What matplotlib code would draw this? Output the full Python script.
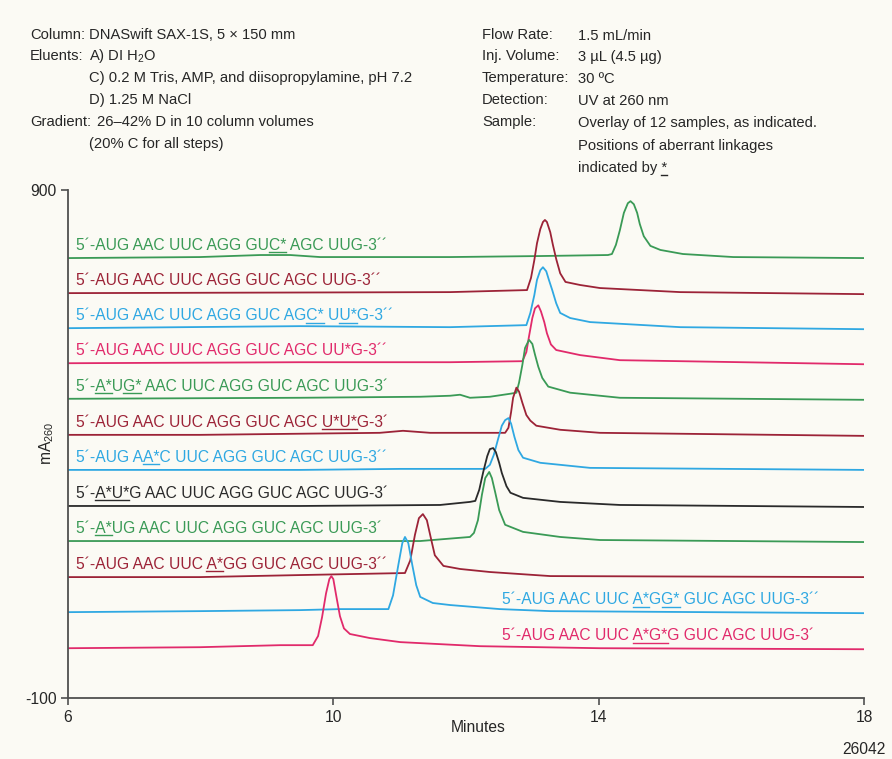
import matplotlib
matplotlib.use("Agg")
import matplotlib.pyplot as plt
from matplotlib import font_manager as fm

# ---------------- fonts ----------------
def has_font(name):
    try:
        fm.findfont(fm.FontProperties(family=name), fallback_to_default=False)
        return True
    except Exception:
        return False

NARROW = has_font("Liberation Sans Narrow")
FAM = "Liberation Sans Narrow" if NARROW else "Liberation Sans"
SC = 1.0 if NARROW else 0.84
plt.rcParams["font.family"] = [FAM, "DejaVu Sans"]
plt.rcParams["mathtext.fontset"] = "custom"
plt.rcParams["mathtext.rm"] = FAM
plt.rcParams["mathtext.it"] = FAM
plt.rcParams["mathtext.bf"] = FAM
plt.rcParams["mathtext.default"] = "regular"

# ---------------- data ----------------
x_ticks = [6, 10, 14, 18]
y_ticks = [-100, 900]

offsets = [766, 697, 628, 559, 489, 418, 349, 278, 209, 138, 69, -2]

GREEN, DRED, BLUE, PINK, BLACK = "#3a9a56", "#9c2337", "#2fa8e2", "#e12a6b", "#2a2a2a"
trace_colors = [GREEN, DRED, BLUE, PINK, GREEN, DRED, BLUE, BLACK, GREEN, DRED, BLUE, PINK]

# labels; [..] marks underlined part
labels = [
    "5´-AUG AAC UUC AGG GU[C*] AGC UUG-3´´",
    "5´-AUG AAC UUC AGG GUC AGC UUG-3´´",
    "5´-AUG AAC UUC AGG GUC AG[C*] U[U*]G-3´´",
    "5´-AUG AAC UUC AGG GUC AGC UU*G-3´´",
    "5´-[A*]U[G*] AAC UUC AGG GUC AGC UUG-3´",
    "5´-AUG AAC UUC AGG GUC AGC [U*U*]G-3´",
    "5´-AUG A[A*]C UUC AGG GUC AGC UUG-3´´",
    "5´-[A*U*]G AAC UUC AGG GUC AGC UUG-3´",
    "5´-[A*]UG AAC UUC AGG GUC AGC UUG-3´",
    "5´-AUG AAC UUC [A*]GG GUC AGC UUG-3´´",
    "5´-AUG AAC UUC [A*]G[G*] GUC AGC UUG-3´´",
    "5´-AUG AAC UUC [A*G*]G GUC AGC UUG-3´",
]
label_x = [6.12] * 10 + [12.55, 12.55]

time_1 = [6.00, 7.99, 8.90, 9.35, 9.80, 11.76, 13.12, 14.14, 14.20, 14.26, 14.32, 14.38, 14.44, 14.48, 14.53, 14.58, 14.62, 14.68, 14.78, 14.93, 15.27, 16.03, 18.00]
signal_1 = [0, 2, 6, 6, 2, 2, 4, 6, 8, 26, 55, 89, 108, 112, 106, 89, 67, 43, 24, 16, 8, 2, 0]

time_2 = [6.00, 11.76, 12.92, 12.98, 13.03, 13.07, 13.12, 13.16, 13.19, 13.22, 13.27, 13.31, 13.36, 13.42, 13.50, 13.72, 14.02, 15.23, 18.00]
signal_2 = [0, 2, 6, 30, 65, 98, 126, 140, 144, 140, 120, 95, 67, 39, 22, 16, 10, 2, -2]

time_3 = [6.00, 9.50, 11.76, 12.91, 12.97, 13.03, 13.07, 13.12, 13.16, 13.21, 13.25, 13.30, 13.36, 13.42, 13.57, 13.87, 15.23, 18.00]
signal_3 = [0, 4, 2, 6, 30, 65, 95, 114, 120, 112, 95, 75, 49, 30, 20, 12, 2, -2]

time_4 = [6.00, 9.50, 11.76, 12.85, 12.91, 12.95, 13.00, 13.04, 13.09, 13.13, 13.18, 13.22, 13.28, 13.36, 13.72, 14.32, 18.00]
signal_4 = [0, 2, 2, 4, 22, 53, 89, 108, 114, 102, 81, 59, 37, 26, 16, 6, -2]

time_5 = [6.00, 9.50, 11.31, 11.76, 11.91, 12.06, 12.36, 12.67, 12.76, 12.80, 12.85, 12.89, 12.95, 13.00, 13.04, 13.09, 13.15, 13.24, 13.57, 14.32, 18.00]
signal_5 = [0, 2, 4, 6, 8, 2, 4, 10, 12, 32, 67, 100, 116, 108, 87, 63, 41, 24, 12, 2, -2]

time_6 = [6.00, 7.99, 10.70, 11.05, 11.46, 12.59, 12.64, 12.68, 12.71, 12.76, 12.80, 12.85, 12.91, 12.97, 13.06, 13.42, 14.02, 18.00]
signal_6 = [0, 0, 4, 8, 4, 4, 14, 45, 73, 93, 85, 63, 39, 28, 18, 10, 4, -2]

time_7 = [6.00, 9.50, 11.01, 12.29, 12.36, 12.42, 12.48, 12.54, 12.59, 12.64, 12.68, 12.73, 12.79, 12.86, 13.12, 13.87, 18.00]
signal_7 = [0, 0, 2, 2, 10, 30, 59, 87, 98, 102, 91, 65, 39, 24, 14, 4, 0]

time_8 = [6.00, 9.50, 11.61, 12.06, 12.14, 12.20, 12.26, 12.32, 12.36, 12.41, 12.45, 12.50, 12.54, 12.61, 12.67, 12.86, 13.42, 14.32, 18.00]
signal_8 = [0, 0, 2, 8, 10, 32, 67, 98, 112, 114, 106, 85, 65, 39, 26, 16, 8, 2, -2]

time_9 = [6.00, 9.50, 11.31, 12.06, 12.12, 12.18, 12.24, 12.29, 12.35, 12.39, 12.44, 12.50, 12.59, 12.86, 13.42, 14.02, 18.00]
signal_9 = [0, 0, 0, 8, 16, 41, 91, 124, 136, 124, 96, 61, 32, 18, 8, 2, -2]

time_10 = [6.00, 7.99, 9.50, 11.08, 11.16, 11.23, 11.29, 11.35, 11.41, 11.47, 11.53, 11.66, 11.91, 12.36, 13.27, 18.00]
signal_10 = [0, 0, 4, 8, 33, 83, 116, 124, 112, 77, 43, 22, 16, 10, 2, 0]

time_11 = [6.00, 7.99, 9.50, 10.10, 10.83, 10.90, 10.98, 11.04, 11.08, 11.13, 11.19, 11.25, 11.31, 11.50, 11.76, 12.51, 13.27, 18.00]
signal_11 = [0, 2, 4, 6, 6, 33, 93, 136, 148, 136, 93, 53, 30, 18, 14, 6, 2, -2]

time_12 = [6.00, 7.99, 9.20, 9.69, 9.77, 9.83, 9.89, 9.94, 9.97, 10.00, 10.04, 10.10, 10.16, 10.25, 10.55, 11.01, 12.21, 14.02, 18.00]
signal_12 = [0, 2, 6, 6, 24, 61, 108, 136, 142, 136, 106, 63, 39, 28, 20, 12, 4, 0, -2]

times = [time_1, time_2, time_3, time_4, time_5, time_6, time_7, time_8, time_9, time_10, time_11, time_12]
signals = [signal_1, signal_2, signal_3, signal_4, signal_5, signal_6, signal_7, signal_8, signal_9, signal_10, signal_11, signal_12]

header_left = [
    ("Column:", "DNASwift SAX-1S, 5 × 150 mm"),
    ("Eluents:", "A) DI H$_{2}$O"),
    ("", "C) 0.2 M Tris, AMP, and diisopropylamine, pH 7.2"),
    ("", "D) 1.25 M NaCl"),
    ("Gradient:", "26–42% D in 10 column volumes"),
    ("", "(20% C for all steps)"),
]
header_right = [
    ("Flow Rate:", "1.5 mL/min"),
    ("Inj. Volume:", "3 µL (4.5 µg)"),
    ("Temperature:", "30 ºC"),
    ("Detection:", "UV at 260 nm"),
    ("Sample:", "Overlay of 12 samples, as indicated."),
    ("", "Positions of aberrant linkages"),
    ("", "indicated by [*]"),
]

# ---------------- figure ----------------
W, H = 892, 759
BG = "#fbfaf4"
fig = plt.figure(figsize=(W / 100, H / 100), dpi=100, facecolor=BG)
ax = fig.add_axes([68 / W, 1 - 698 / H, 796 / W, 508 / H], facecolor=BG)

def fx(x):
    return x / W

def fy(y):
    return 1 - y / H

FS = 13.4 * SC
HFS = 12.6 * SC
TXT = "#262626"

for t, s, off, c in zip(times, signals, offsets, trace_colors):
    ax.plot(t, [v + off for v in s], color=c, lw=1.3, solid_joinstyle="round", solid_capstyle="round")

ax.set_xlim(6, 18)
ax.set_ylim(-100, 900)
ax.set_xticks(x_ticks)
ax.set_yticks(y_ticks)
ax.set_xticklabels([str(v) for v in x_ticks])
ax.set_yticklabels([str(v) for v in y_ticks])
for sp in ["top", "right"]:
    ax.spines[sp].set_visible(False)
for sp in ["left", "bottom"]:
    ax.spines[sp].set_color("#505050")
    ax.spines[sp].set_linewidth(1.3)
ax.tick_params(axis="both", direction="out", length=5, width=1.2, color="#505050",
               labelsize=FS, labelcolor=TXT, pad=3)
ax.tick_params(axis="x", pad=4)

renderer = fig.canvas.get_renderer()

def parse(lbl):
    plain, spans, i = "", [], 0
    while i < len(lbl):
        if lbl[i] == "[":
            j = lbl.index("]", i)
            spans.append((len(plain), len(plain) + j - i - 1))
            plain += lbl[i + 1:j]
            i = j + 1
        else:
            plain += lbl[i]
            i += 1
    return plain, spans

def twidth(s, size):
    tt = fig.text(0, 0, s, fontsize=size)
    w = tt.get_window_extent(renderer).width
    tt.remove()
    return w

def draw_underlines(plain, spans, x_disp, y_disp, size, color):
    for a, b in spans:
        end = twidth(plain[:b], size)
        start = end - twidth(plain[a:b], size)
        yy = y_disp - 2.5
        fig.add_artist(plt.Line2D([fx(x_disp + start), fx(x_disp + end)],
                                  [yy / H, yy / H], transform=fig.transFigure,
                                  color=color, lw=1.0))

# trace labels
for lbl, lx, off, c in zip(labels, label_x, offsets, trace_colors):
    plain, spans = parse(lbl)
    ax.text(lx, off + 16, plain, fontsize=FS, color=c, ha="left", va="baseline")
    xd, yd = ax.transData.transform((lx, off + 16))
    draw_underlines(plain, spans, xd, yd, FS, c)

# header text
left_y = [35, 56, 78, 100, 122, 144]
for (k, v), y in zip(header_left, left_y):
    if k:
        fig.text(fx(30), fy(y), k, fontsize=HFS, color=TXT, ha="left", va="center")
    vx = 97 if k == "Gradient:" else 89
    fig.text(fx(vx), fy(y), v, fontsize=HFS, color=TXT, ha="left", va="center")

right_y = [35, 56, 78, 100, 122, 145, 167]
for (k, v), y in zip(header_right, right_y):
    if k:
        fig.text(fx(482), fy(y), k, fontsize=HFS, color=TXT, ha="left", va="center")
    plain, spans = parse(v)
    fig.text(fx(578), fy(y + 5), plain, fontsize=HFS, color=TXT, ha="left", va="baseline")
    if spans:
        draw_underlines(plain, spans, 578, H - (y + 5), HFS, TXT)

# axis labels
fig.text(fx(47), fy(443), "mA$_{260}$", fontsize=FS, color=TXT, rotation=90,
         ha="center", va="center")
fig.text(fx(478), fy(727), "Minutes", fontsize=FS, color=TXT, ha="center", va="center")
fig.text(fx(886), fy(750), "26042", fontsize=FS, color=TXT, ha="right", va="center")

fig.savefig("out.png", dpi=100, facecolor=BG)
